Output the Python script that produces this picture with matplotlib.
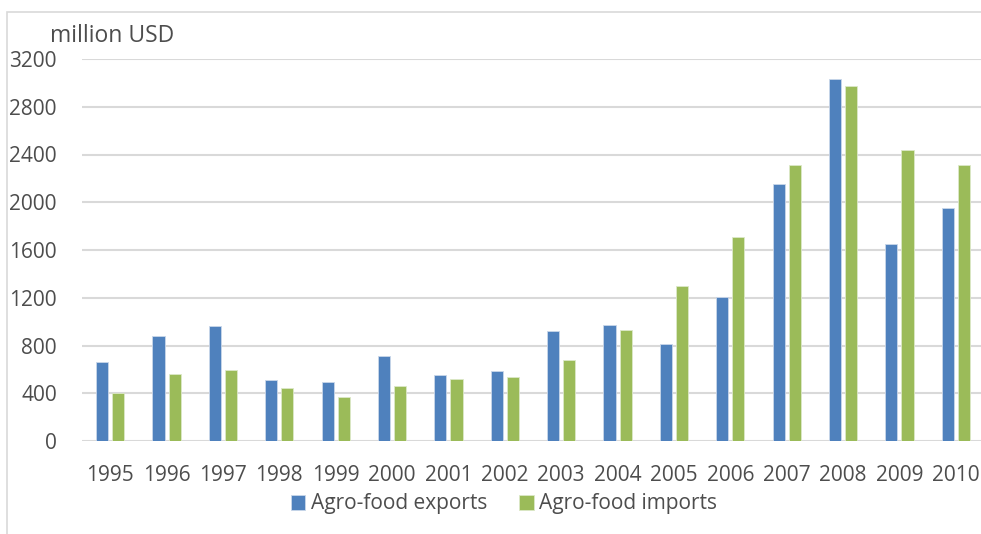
import matplotlib
matplotlib.use('Agg')
import matplotlib.pyplot as plt
import numpy as np

plt.rcParams['font.family'] = ['Open Sans', 'DejaVu Sans']

# Agro-food trade, million USD
years = ['1995', '1996', '1997', '1998', '1999', '2000', '2001', '2002',
         '2003', '2004', '2005', '2006', '2007', '2008', '2009', '2010']
exports = [660, 880, 960, 515, 495, 710, 550, 583,
           920, 975, 815, 1205, 2150, 3035, 1647, 1951]
imports = [405, 558, 595, 440, 368, 458, 522, 536,
           680, 927, 1295, 1706, 2309, 2973, 2437, 2311]

BLUE = '#4F81BD'
GREEN = '#9BBB59'
TEXT = '#4D4D4D'
GRID = '#D9D9D9'

fig = plt.figure(figsize=(9.81, 5.34), dpi=100)

# thin border round the chart area (top and left visible)
border = plt.Rectangle((7 / 981, -0.1), 1.2, (534 - 12) / 534 + 0.1,
                       transform=fig.transFigure, fill=False,
                       edgecolor=GRID, linewidth=1.2)
fig.patches.append(border)

ax = fig.add_axes([82 / 981, 93 / 534, 902 / 981, 382 / 534])

x = np.arange(len(years))
w = 0.215
off = 0.142
ax.bar(x - off, exports, width=w, color=BLUE, edgecolor='#C9D7EA',
       linewidth=0.6, label='Agro-food exports', zorder=3)
ax.bar(x + off, imports, width=w, color=GREEN, edgecolor='#DCE8C8',
       linewidth=0.6, label='Agro-food imports', zorder=3)

ax.set_xlim(-0.5, len(years) - 0.5)
ax.set_ylim(0, 3200)
ax.set_yticks(np.arange(0, 3201, 400))
ax.set_xticks(x)
ax.set_xticklabels(years)
ax.grid(axis='y', color=GRID, linewidth=1.5, zorder=0)
for s in ax.spines.values():
    s.set_visible(False)
ax.tick_params(axis='both', length=0, labelsize=15, colors=TEXT)
ax.tick_params(axis='y', pad=18)
ax.tick_params(axis='x', pad=17)

fig.text(50 / 981, 1 - 42 / 534, 'million USD', fontsize=16.5, color=TEXT,
         ha='left', va='baseline')

fig.legend(loc='center', bbox_to_anchor=(504 / 981, 1 - 504 / 534), ncol=2,
           frameon=False, fontsize=15, labelcolor=TEXT, handlelength=0.7,
           handleheight=0.7, handletextpad=0.25, columnspacing=1.55)

fig.savefig('out.png', dpi=100, facecolor='white')
